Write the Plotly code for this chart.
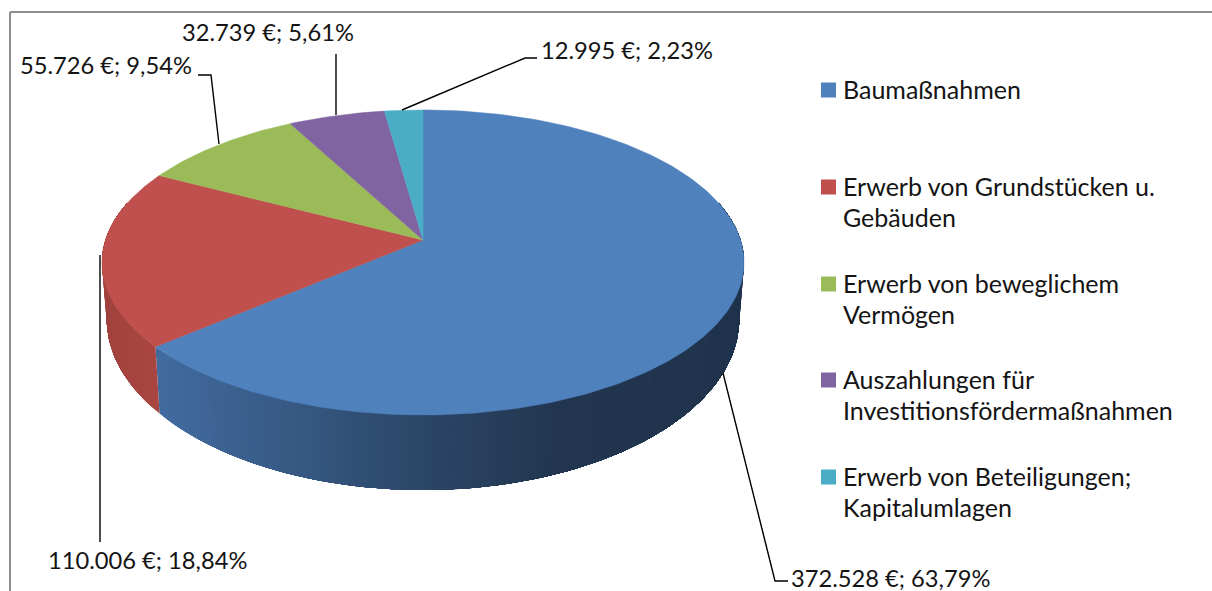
import numpy as np
import plotly.graph_objects as go

# ---- data ----
categories = ["Baumaßnahmen", "Erwerb von Grundstücken u. Gebäuden", "Erwerb von beweglichem Vermögen",
              "Auszahlungen für Investitionsfördermaßnahmen", "Erwerb von Beteiligungen; Kapitalumlagen"]
values = [372528, 110006, 55726, 32739, 12995]
percents = ["63,79%", "18,84%", "9,54%", "5,61%", "2,23%"]
legend_lines = [["Baumaßnahmen"], ["Erwerb von Grundstücken u.", "Gebäuden"], ["Erwerb von beweglichem", "Vermögen"],
                ["Auszahlungen für", "Investitionsfördermaßnahmen"], ["Erwerb von Beteiligungen;", "Kapitalumlagen"]]
colors = ["#4f81bd", "#c0504d", "#9bbb59", "#8064a2", "#4bacc6"]

# ---- layout / projection settings (pixels) ----
W, H = 1212, 591
CX, CY = 423.0, 240.0
A, B, K = 317.5, 149.2, 0.1475
DEPTH, TAPER = 54.5, 0.015
FONT = "Lato"
LABEL_SIZE = 23.7
LEGEND_SIZE = 25
TEXT = "#141414"

def top_rim(t):
    d = 1 + K * np.cos(t)
    return CX + A * np.sin(t) / d, CY - B * np.cos(t) / d

def bottom_rim(t):
    x, y = top_rim(t)
    d = 1 + K * np.cos(t)
    return CX + (x - CX) * (1 - TAPER), y + DEPTH / d ** 2

def lerp_color(stops, x):
    xs = [s[0] for s in stops]
    rgb = [np.interp(x, xs, [s[1][i] for s in stops]) for i in range(3)]
    return "rgb(%d,%d,%d)" % tuple(int(round(c)) for c in rgb)

blue_side = [(150, (66, 108, 160)), (300, (54, 88, 130)), (423, (44, 70, 102)), (560, (34, 54, 80)), (740, (31, 51, 77))]
red_side = [(100, (160, 66, 62)), (160, (170, 70, 65))]

fractions = np.array(values, dtype=float) / sum(values)
edges = np.concatenate([[0.0], np.cumsum(fractions)]) * 2 * np.pi

fig = go.Figure()

# visible side walls, drawn first so the top surface covers what lies behind.
# Each band runs to the end of its wall and the next band paints over it, so no seams show.
side_ranges = [(edges[1], np.radians(75), blue_side), (edges[1], np.radians(285), red_side)]
for t0, t1, stops in side_ranges:
    n = max(2, int(abs(t1 - t0) / np.radians(1.0)))
    grid = np.linspace(t0, t1, n + 1)
    for a, b in zip(grid[:-1], grid[1:]):
        ts = np.linspace(a, t1, max(4, int(abs(t1 - a) / np.radians(1.0))))
        xt, yt = top_rim(ts)
        xb, yb = bottom_rim(ts[::-1])
        col = lerp_color(stops, float(top_rim((a + b) / 2)[0]))
        fig.add_trace(go.Scatter(x=np.concatenate([xt, xb]), y=np.concatenate([yt, yb]), mode="lines",
                                 fill="toself", fillcolor=col, line=dict(width=0),
                                 showlegend=False, hoverinfo="skip"))

# top surface slices
for i, name in enumerate(categories):
    ts = np.linspace(edges[i], edges[i + 1], max(8, int((edges[i + 1] - edges[i]) / np.radians(1))))
    xr, yr = top_rim(ts)
    fig.add_trace(go.Scatter(x=np.concatenate([[CX], xr, [CX]]), y=np.concatenate([[CY], yr, [CY]]),
                             mode="lines", fill="toself", fillcolor=colors[i],
                             line=dict(color=colors[i], width=0.5), name=name, showlegend=False,
                             text=f"{name}: {values[i]}", hoverinfo="text"))

# leader lines
leaders = [
    ([723, 775, 788], [373, 581, 581]),
    ([100, 100], [255, 542]),
    ([219, 211, 198], [144, 75, 75]),
    ([336, 336], [115, 54]),
    ([402, 525, 537], [110, 58, 58]),
]
for lx, ly in leaders:
    fig.add_trace(go.Scatter(x=lx, y=ly, mode="lines", line=dict(color="#000000", width=1.4),
                             showlegend=False, hoverinfo="skip"))

# data labels
label_pos = [(792, 578), (49, 560), (21, 65), (183, 32), (542, 50)]
annotations = []
for v, p, (lx, ly) in zip(values, percents, label_pos):
    annotations.append(dict(x=lx, y=ly, xref="x", yref="y", xanchor="left", yanchor="middle", showarrow=False,
                            text=f"{v:,}".replace(",", ".") + " €; " + p, xshift=-3,
                            font=dict(family=FONT, size=LABEL_SIZE, color=TEXT)))

# legend
legend_y = [90, 187, 284, 380, 477]
line_gap = 31
fig.add_trace(go.Scatter(x=[828.5] * 5, y=legend_y, mode="markers",
                         marker=dict(symbol="square", size=15, color=colors, line=dict(width=0)),
                         showlegend=False, hoverinfo="skip"))
for y0, lines in zip(legend_y, legend_lines):
    for j, line in enumerate(lines):
        annotations.append(dict(x=843, y=y0 - 1 + j * line_gap, xref="x", yref="y", xanchor="left", yanchor="middle",
                                showarrow=False, text=line, xshift=-2,
                                font=dict(family=FONT, size=LEGEND_SIZE, color=TEXT)))

# chart frame: top and left edges
frame = [dict(type="line", xref="x", yref="y", x0=10, y0=12, x1=W, y1=12, line=dict(color="#8e8e8e", width=2)),
         dict(type="line", xref="x", yref="y", x0=10, y0=12, x1=10, y1=H, line=dict(color="#8e8e8e", width=2))]

fig.update_layout(width=W, height=H, margin=dict(l=0, r=0, t=0, b=0), paper_bgcolor="white", plot_bgcolor="white",
                  xaxis=dict(range=[0, W], visible=False, fixedrange=True),
                  yaxis=dict(range=[H, 0], visible=False, fixedrange=True),
                  annotations=annotations, shapes=frame, showlegend=False)

fig.write_html("out.html", config={"displayModeBar": False},
               post_script="document.body.style.margin='0';document.body.style.overflow='hidden';")
